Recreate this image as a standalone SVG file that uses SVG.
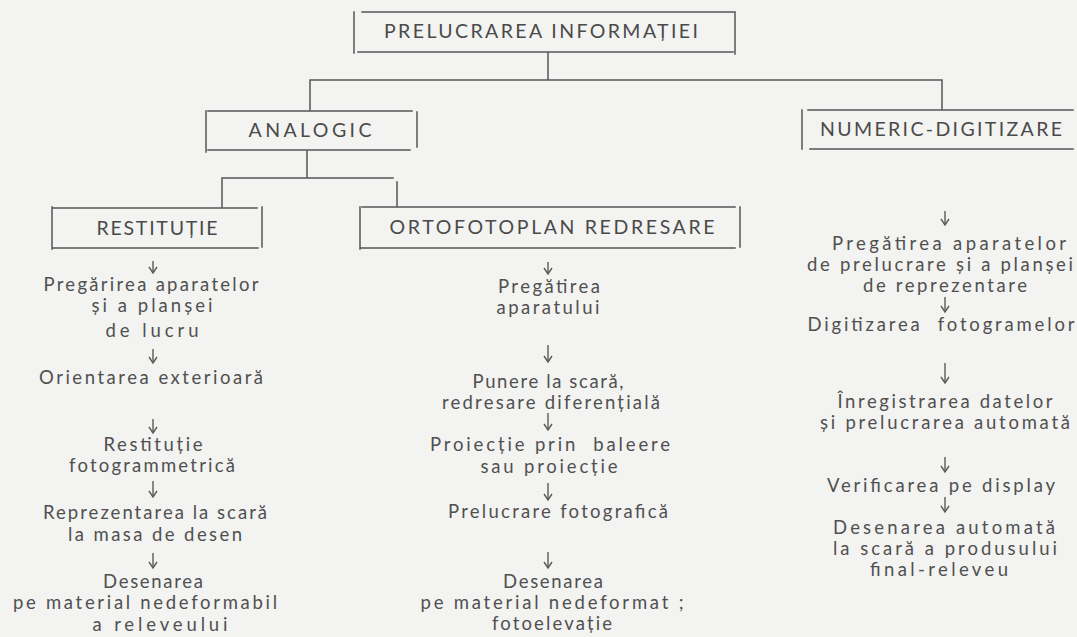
<svg xmlns="http://www.w3.org/2000/svg" width="1077" height="637" viewBox="0 0 1077 637">
<style>
.bg{fill:#f3f3f1}
.ln{stroke:#555;stroke-width:1.5;fill:none;stroke-linecap:square}
.ar{stroke:#5a5a5a;stroke-width:1.4;fill:none}
.h{font-family:Lato,"Open Sans",sans-serif;font-size:19.5px;fill:#4a4a4a;text-anchor:middle}
.t{font-family:Lato,"Open Sans",sans-serif;font-size:18.5px;fill:#505050;text-anchor:middle}
</style>
<defs>
<path id="arrowhead" d="M-4 -6 L0 0 L4 -6" class="ar"/>
</defs>
<rect class="bg" x="0" y="0" width="1077" height="637"/>

<g id="connectors">
<path class="ln" d="M548 53 V80 M310 80 H942 M310 80 V110 M942 80 V109"/>
<path class="ln" d="M307 151 V178 M222 178 H393 M222 178 V207 M397 182 V206"/>
<g id="arrows-left">
<path class="ar" d="M153 261 V273"/><use href="#arrowhead" x="153" y="273"/>
<path class="ar" d="M153 349 V363"/><use href="#arrowhead" x="153" y="363"/>
<path class="ar" d="M153 419 V433"/><use href="#arrowhead" x="153" y="433"/>
<path class="ar" d="M153 481 V497"/><use href="#arrowhead" x="153" y="497"/>
<path class="ar" d="M153 553 V568"/><use href="#arrowhead" x="153" y="568"/>
</g>
<g id="arrows-center">
<path class="ar" d="M548 262 V274"/><use href="#arrowhead" x="548" y="274"/>
<path class="ar" d="M548 345 V362"/><use href="#arrowhead" x="548" y="362"/>
<path class="ar" d="M548 413 V430"/><use href="#arrowhead" x="548" y="430"/>
<path class="ar" d="M548 483 V500"/><use href="#arrowhead" x="548" y="500"/>
<path class="ar" d="M548 552 V568"/><use href="#arrowhead" x="548" y="568"/>
</g>
<g id="arrows-right">
<path class="ar" d="M945 211 V225"/><use href="#arrowhead" x="945" y="225"/>
<path class="ar" d="M945 297 V312"/><use href="#arrowhead" x="945" y="312"/>
<path class="ar" d="M945 363 V383"/><use href="#arrowhead" x="945" y="383"/>
<path class="ar" d="M945 457 V472"/><use href="#arrowhead" x="945" y="472"/>
<path class="ar" d="M945 497 V512"/><use href="#arrowhead" x="945" y="512"/>
</g>
</g>

<g id="node-prelucrarea">
<path class="ln" d="M354 12 V53 M362 12 H735 M735 12 V54 M358 52 H733"/>
<text class="h" x="541" y="38" textLength="314" lengthAdjust="spacing">PRELUCRAREA INFORMAȚIEI</text>
</g>

<g id="node-analogic">
<path class="ln" d="M206 111 V152 M208 111 H412 M417 112 V147 M208 150 H410"/>
<text class="h" x="310" y="137" textLength="123" lengthAdjust="spacing">ANALOGIC</text>
</g>

<g id="node-numeric">
<path class="ln" d="M802 110 V149 M808 110 H1073 M810 149 H1073"/>
<text class="h" x="941" y="136" textLength="242" lengthAdjust="spacing">NUMERIC-DIGITIZARE</text>
</g>

<g id="node-restitutie">
<path class="ln" d="M52 207 V249 M53 208 H257 M262 207 V247 M52 248 H258"/>
<text class="h" x="157" y="235" textLength="121" lengthAdjust="spacing">RESTITUȚIE</text>
</g>

<g id="node-ortofotoplan">
<path class="ln" d="M360 207 V249 M362 207 H735 M740 207 V247 M360 248 H735"/>
<text class="h" x="552" y="234" textLength="325" lengthAdjust="spacing">ORTOFOTOPLAN REDRESARE</text>
</g>

<g id="steps-restitutie">
<text class="t" x="151" y="291" textLength="215" lengthAdjust="spacing">Pregărirea aparatelor</text>
<text class="t" x="152" y="312" textLength="121" lengthAdjust="spacing">și a planșei</text>
<text class="t" x="152" y="337" textLength="93" lengthAdjust="spacing">de lucru</text>
<text class="t" x="151" y="384" textLength="224" lengthAdjust="spacing">Orientarea exterioară</text>
<text class="t" x="153" y="451" textLength="99" lengthAdjust="spacing">Restituție</text>
<text class="t" x="152" y="472" textLength="166" lengthAdjust="spacing">fotogrammetrică</text>
<text class="t" x="155" y="519" textLength="224" lengthAdjust="spacing">Reprezentarea la scară</text>
<text class="t" x="155" y="541" textLength="174" lengthAdjust="spacing">la masa de desen</text>
<text class="t" x="153" y="588" textLength="100" lengthAdjust="spacing">Desenarea</text>
<text class="t" x="145" y="609" textLength="264" lengthAdjust="spacing">pe material nedeformabil</text>
<text class="t" x="160" y="631" textLength="135" lengthAdjust="spacing">a releveului</text>
</g>

<g id="steps-ortofotoplan">
<text class="t" x="549" y="293" textLength="102" lengthAdjust="spacing">Pregătirea</text>
<text class="t" x="548" y="314" textLength="103" lengthAdjust="spacing">aparatului</text>
<text class="t" x="548" y="388" textLength="151" lengthAdjust="spacing">Punere la scară,</text>
<text class="t" x="551" y="409" textLength="218" lengthAdjust="spacing">redresare diferențială</text>
<text class="t" x="550" y="451" textLength="240" lengthAdjust="spacing" xml:space="preserve">Proiecție prin  baleere</text>
<text class="t" x="549" y="473" textLength="137" lengthAdjust="spacing">sau proiecție</text>
<text class="t" x="558" y="518" textLength="220" lengthAdjust="spacing">Prelucrare fotografică</text>
<text class="t" x="553" y="588" textLength="100" lengthAdjust="spacing">Desenarea</text>
<text class="t" x="552" y="609" textLength="263" lengthAdjust="spacing">pe material nedeformat ;</text>
<text class="t" x="552" y="630" textLength="120" lengthAdjust="spacing">fotoelevație</text>
</g>

<g id="steps-numeric">
<text class="t" x="949" y="250" textLength="234" lengthAdjust="spacing">Pregătirea aparatelor</text>
<text class="t" x="940" y="271" textLength="266" lengthAdjust="spacing">de prelucrare și a planșei</text>
<text class="t" x="945" y="292" textLength="164" lengthAdjust="spacing">de reprezentare</text>
<text class="t" x="941" y="331" textLength="267" lengthAdjust="spacing" xml:space="preserve">Digitizarea  fotogramelor</text>
<text class="t" x="945" y="408" textLength="215" lengthAdjust="spacing">Înregistrarea datelor</text>
<text class="t" x="945" y="429" textLength="250" lengthAdjust="spacing">și prelucrarea automată</text>
<text class="t" x="941" y="492" textLength="228" lengthAdjust="spacing">Verificarea pe display</text>
<text class="t" x="944" y="534" textLength="222" lengthAdjust="spacing">Desenarea automată</text>
<text class="t" x="945" y="555" textLength="224" lengthAdjust="spacing">la scară a produsului</text>
<text class="t" x="939" y="576" textLength="138" lengthAdjust="spacing">final-releveu</text>
</g>
</svg>
